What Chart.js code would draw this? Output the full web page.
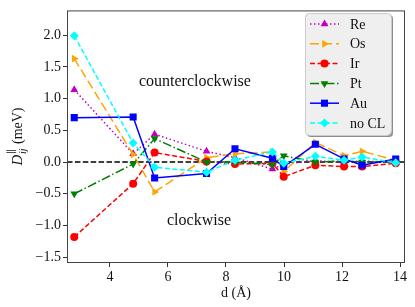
<!DOCTYPE html>
<html>
<head>
<meta charset="utf-8">
<script src="https://cdn.jsdelivr.net/npm/chart.js@4/dist/chart.umd.min.js"></script>
<style>
  html, body { margin: 0; padding: 0; background: #fff; }
  #wrap { width: 415px; height: 307px; position: relative; }
</style>
</head>
<body>
<div id="wrap"><canvas id="c" width="415" height="307"></canvas></div>
<script>
// ---- data ----
const distances = [2.77, 4.80, 5.54, 7.33, 8.31, 9.60, 9.99, 11.08, 12.07, 12.69, 13.85];
const seriesNames = ["Re", "Os", "Ir", "Pt", "Au", "no CL"];
const valuesRe   = [1.14, 0.13, 0.44, 0.17, 0.07, -0.11, -0.03, 0.02, 0.00, 0.02, -0.01];
const valuesOs   = [1.63, 0.12, -0.47, 0.07, 0.13, 0.16, -0.15, 0.31, 0.10, 0.17, 0.03];
const valuesIr   = [-1.18, -0.34, 0.15, 0.01, -0.03, -0.02, -0.23, -0.05, -0.07, -0.07, -0.02];
const valuesPt   = [-0.50, -0.03, 0.37, 0.00, 0.00, -0.04, 0.10, 0.00, 0.02, 0.00, 0.00];
const valuesAu   = [0.70, 0.71, -0.25, -0.18, 0.21, 0.06, -0.07, 0.28, 0.05, -0.05, 0.05];
const valuesNoCL = [1.99, 0.30, -0.08, -0.16, 0.03, 0.16, -0.02, 0.09, 0.03, 0.08, -0.01];
const xTicks = [4, 6, 8, 10, 12, 14];
const yTicks = [-1.5, -1.0, -0.5, 0.0, 0.5, 1.0, 1.5, 2.0];
const annotations = [
  { text: "counterclockwise", x: 6.93, y: 1.27 },
  { text: "clockwise", x: 7.07, y: -0.93 }
];

// ---- styles ----
const SERIF = "'Liberation Serif', 'Times New Roman', serif";
const styles = [
  { color: '#BF00BF', dash: [1.5, 2.5], pointStyle: 'triangle', rotation: 0, radius: 4.5 },
  { color: '#FFA500', dash: [9, 4], pointStyle: 'triangle', rotation: 90, radius: 4.5 },
  { color: '#FF0000', dash: [5, 2.5], pointStyle: 'circle', rotation: 0, radius: 4 },
  { color: '#008000', dash: [9, 2.5, 1.5, 2.5], pointStyle: 'triangle', rotation: 180, radius: 4.5 },
  { color: '#0000FF', dash: [], pointStyle: 'rect', rotation: 0, radius: 5 },
  { color: '#00FFFF', dash: [5, 2.5], pointStyle: 'rectRot', rotation: 0, radius: 4.5 }
];
const allValues = [valuesRe, valuesOs, valuesIr, valuesPt, valuesAu, valuesNoCL];

const datasets = allValues.map((vals, i) => ({
  label: seriesNames[i],
  data: vals.map((v, k) => ({ x: distances[k], y: v })),
  borderColor: styles[i].color,
  backgroundColor: styles[i].color,
  borderWidth: 1.5,
  borderDash: styles[i].dash,
  pointStyle: styles[i].pointStyle,
  rotation: styles[i].rotation,
  pointRadius: styles[i].radius,
  pointHoverRadius: styles[i].radius,
  pointBorderWidth: 0,
  tension: 0,
  order: allValues.length - i
}));

const fmt = v => (Math.abs(v) < 1e-9 ? 0 : v).toFixed(1).replace('-', '\u2212');

const decor = {
  id: 'decor',
  beforeDatasetsDraw(chart) {
    const { ctx, chartArea: a, scales: { y } } = chart;
    const py = y.getPixelForValue(0);
    ctx.save();
    ctx.strokeStyle = '#000';
    ctx.lineWidth = 1.5;
    ctx.setLineDash([5.5, 2.4]);
    ctx.beginPath();
    ctx.moveTo(a.left, py);
    ctx.lineTo(a.right, py);
    ctx.stroke();
    ctx.restore();
  },
  afterDatasetsDraw(chart) {
    const { ctx, chartArea: a, scales: { x, y } } = chart;
    ctx.save();
    // annotations
    ctx.fillStyle = '#111';
    ctx.font = "16px " + SERIF;
    ctx.textAlign = 'center';
    ctx.textBaseline = 'middle';
    annotations.forEach(t => ctx.fillText(t.text, x.getPixelForValue(t.x), y.getPixelForValue(t.y)));
    // frame
    ctx.strokeStyle = '#444';
    ctx.lineWidth = 1;
    ctx.setLineDash([]);
    ctx.strokeRect(a.left + 0.5, a.top + 0.5, a.right - a.left - 1, a.bottom - a.top - 1);
    // legend
    const bx = 305, by = 13, bw = 86, bh = 122, r = 4;
    const rr = (X, Y) => { ctx.beginPath(); ctx.roundRect(X, Y, bw, bh, r); };
    ctx.fillStyle = 'rgba(0,0,0,0.45)';
    rr(bx + 2, by + 2); ctx.fill();
    ctx.fillStyle = '#efefef';
    rr(bx, by); ctx.fill();
    ctx.strokeStyle = '#cccccc';
    ctx.lineWidth = 1;
    rr(bx + 0.5, by + 0.5); ctx.stroke();
    seriesNames.forEach((name, i) => {
      const s = styles[i];
      const cy = 24 + i * 19.8;
      ctx.strokeStyle = s.color;
      ctx.lineWidth = 1.5;
      ctx.setLineDash(s.dash);
      ctx.beginPath();
      ctx.moveTo(310, cy);
      ctx.lineTo(339, cy);
      ctx.stroke();
      ctx.setLineDash([]);
      ctx.fillStyle = s.color;
      ctx.strokeStyle = s.color;
      Chart.helpers.drawPoint(ctx, { pointStyle: s.pointStyle, rotation: s.rotation, radius: s.radius, borderWidth: 0 }, 324.5, cy);
      ctx.fillStyle = '#111';
      ctx.font = "14px " + SERIF;
      ctx.textAlign = 'left';
      ctx.textBaseline = 'middle';
      ctx.fillText(name, 350, cy + 1);
    });
    ctx.restore();
  },
  afterDraw(chart) {
    const { ctx, chartArea: a } = chart;
    ctx.save();
    ctx.fillStyle = '#111';
    // x title
    ctx.font = "14px " + SERIF;
    ctx.textAlign = 'center';
    ctx.textBaseline = 'middle';
    ctx.fillText("d (\u00C5)", (a.left + a.right) / 2, 293);
    // y title: D_ij^∥ (meV)
    ctx.translate(22, (a.top + a.bottom) / 2);
    ctx.rotate(-Math.PI / 2);
    ctx.textBaseline = 'alphabetic';
    ctx.textAlign = 'left';
    const fD = "italic 15px " + SERIF, fS = "italic 10px " + SERIF, fP = "10px " + SERIF, fT = "14px " + SERIF;
    ctx.font = fD; const wD = ctx.measureText("D").width;
    ctx.font = fS; const wij = ctx.measureText("ij").width;
    ctx.font = fP; const wpar = ctx.measureText("\u2225").width;
    ctx.font = fT; const wT = ctx.measureText(" (meV)").width;
    const wS = Math.max(wij, wpar) + 1;
    let x0 = -(wD + wS + wT) / 2;
    ctx.font = fD; ctx.fillText("D", x0, 0); x0 += wD + 0.5;
    ctx.font = fS; ctx.fillText("ij", x0, 3.5);
    ctx.font = fP; ctx.fillText("\u2225", x0, -8);
    x0 += wS;
    ctx.font = fT; ctx.fillText(" (meV)", x0, 0);
    ctx.restore();
  }
};

new Chart(document.getElementById('c'), {
  type: 'line',
  data: { datasets },
  options: {
    responsive: false,
    animation: false,
    devicePixelRatio: 1,
    layout: { padding: { left: 0, top: 10, right: 10, bottom: 0 } },
    plugins: { legend: { display: false }, tooltip: { enabled: false } },
    scales: {
      x: {
        type: 'linear',
        min: 2.52, max: 14.17,
        afterBuildTicks: s => { s.ticks = xTicks.map(v => ({ value: v })); },
        afterFit: s => { s.height = 44; },
        grid: { drawOnChartArea: false, drawTicks: true, tickLength: 4, color: '#333', tickColor: '#333' },
        border: { display: false },
        ticks: { color: '#111', font: { family: SERIF, size: 14 }, padding: 2, maxRotation: 0, callback: v => String(v) }
      },
      y: {
        type: 'linear',
        min: -1.59, max: 2.39,
        afterBuildTicks: s => { s.ticks = yTicks.map(v => ({ value: v })); },
        afterFit: s => { s.width = 67; },
        grid: { drawOnChartArea: false, drawTicks: true, tickLength: 4, color: '#333', tickColor: '#333' },
        border: { display: false },
        ticks: { color: '#111', font: { family: SERIF, size: 14 }, padding: 2, callback: v => fmt(v) }
      }
    }
  },
  plugins: [decor]
});
</script>
</body>
</html>
